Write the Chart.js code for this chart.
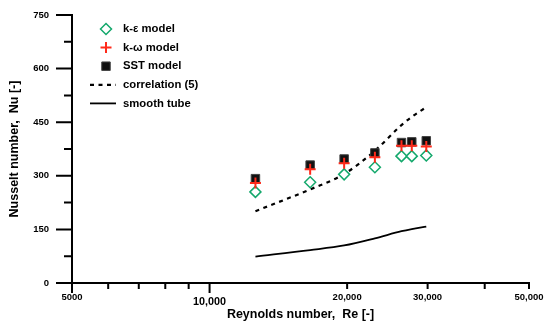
<!DOCTYPE html>
<html>
<head>
<meta charset="utf-8">
<script src="https://cdn.jsdelivr.net/npm/chart.js@4/dist/chart.umd.min.js"></script>
<style>
  html, body { margin: 0; padding: 0; background: #fff; }
  #wrap { width: 550px; height: 327px; }
</style>
</head>
<body>
<div id="wrap"><canvas id="nusseltChart"></canvas></div>
<script>
const reynolds = [12600, 16600, 19700, 23000, 26300, 27700, 29800];
const kEpsilon = [255, 282, 304, 324, 355, 355, 357];
const kOmega = [280, 318, 335, 352, 384, 384, 382];
const sst = [292, 330, 347, 364, 393, 395, 398];
const correlation = [201, 262, 305, 370, 442, 465, 492];
const smoothTube = [74, 92, 105, 125, 145, 151, 158];

const xTickValues = [5000, 6000, 7000, 8000, 9000, 10000, 20000, 30000, 40000, 50000];
const xTickLabels = ['5000', '', '', '', '', '10,000', '20,000', '30,000', '', '50,000'];
const yTickValues = [0, 75, 150, 225, 300, 375, 450, 525, 600, 675, 750];
const yTickLabels = ['0', '', '150', '', '300', '', '450', '', '600', '', '750'];

const fontFamily = '"Liberation Sans", Arial, sans-serif';
const green = '#14a86c';
const red = '#ff2a1a';

const toPoints = ys => reynolds.map((x, i) => ({ x: x, y: ys[i] }));

// tick marks: labelled ones longer
const axisTicks = {
  id: 'axisTicks',
  afterDraw(chart) {
    const { ctx, scales: { x, y } } = chart;
    ctx.save();
    ctx.strokeStyle = '#000';
    ctx.lineWidth = 2;
    ctx.beginPath();
    x.ticks.forEach(t => {
      const px = x.getPixelForValue(t.value);
      const len = (t.value === 5000 || t.value === 10000) ? 10 : 6;
      ctx.moveTo(px, x.top);
      ctx.lineTo(px, x.top + len);
    });
    y.ticks.forEach((t, i) => {
      const py = y.getPixelForValue(t.value);
      const len = yTickLabels[i] ? 16 : 8;
      ctx.moveTo(y.right, py);
      ctx.lineTo(y.right - len, py);
    });
    ctx.stroke();
    ctx.restore();
  }
};

// legend drawn inside the plot, top left
const insideLegend = {
  id: 'insideLegend',
  afterDatasetsDraw(chart) {
    const { ctx, chartArea } = chart;
    ctx.save();
    ctx.font = 'bold 11.3px ' + fontFamily;
    ctx.textBaseline = 'middle';
    chart.data.datasets.forEach((ds, i) => {
      const cy = chartArea.top + 14 + i * 18.6;
      const cx = chartArea.left + 34;
      ctx.save();
      ctx.lineWidth = ds.borderWidth;
      ctx.strokeStyle = ds.borderColor;
      ctx.fillStyle = ds.backgroundColor;
      ctx.beginPath();
      if (ds.showLine) {
        ctx.setLineDash(ds.borderDash || []);
        ctx.moveTo(chartArea.left + 18, cy);
        ctx.lineTo(chartArea.left + 44, cy);
        ctx.stroke();
      } else if (ds.pointStyle === 'rectRot') {
        const r = ds.pointRadius;
        ctx.moveTo(cx - r, cy); ctx.lineTo(cx, cy - r);
        ctx.lineTo(cx + r, cy); ctx.lineTo(cx, cy + r);
        ctx.closePath();
        ctx.fill(); ctx.stroke();
      } else if (ds.pointStyle === 'cross') {
        const r = ds.pointRadius;
        ctx.moveTo(cx - r, cy); ctx.lineTo(cx + r, cy);
        ctx.moveTo(cx, cy - r); ctx.lineTo(cx, cy + r);
        ctx.stroke();
      } else {
        const h = ds.pointRadius * Math.SQRT1_2;
        ctx.rect(cx - h, cy - h, 2 * h, 2 * h);
        ctx.fill(); ctx.stroke();
      }
      ctx.restore();
      ctx.fillStyle = '#000';
      ctx.fillText(ds.label, chartArea.left + 51, cy);
    });
    ctx.restore();
  }
};

new Chart(document.getElementById('nusseltChart'), {
  type: 'scatter',
  data: {
    datasets: [{
      label: 'k-ε model',
      data: toPoints(kEpsilon),
      pointStyle: 'rectRot',
      pointRadius: 5.5,
      borderWidth: 1.5,
      borderColor: green,
      backgroundColor: '#fff',
      order: 1
    }, {
      label: 'k-ω model',
      data: toPoints(kOmega),
      pointStyle: 'cross',
      pointRadius: 5.5,
      borderWidth: 2,
      borderColor: red,
      backgroundColor: red,
      order: 0
    }, {
      label: 'SST model',
      data: toPoints(sst),
      pointStyle: 'rect',
      pointRadius: 6,
      borderWidth: 1,
      borderColor: '#444',
      backgroundColor: '#111',
      order: 2
    }, {
      label: 'correlation (5)',
      data: toPoints(correlation),
      showLine: true,
      borderDash: [4, 4.5],
      borderWidth: 2.2,
      borderColor: '#000',
      backgroundColor: '#000',
      pointRadius: 0,
      cubicInterpolationMode: 'monotone',
      order: 3
    }, {
      label: 'smooth tube',
      data: toPoints(smoothTube),
      showLine: true,
      borderWidth: 1.8,
      borderColor: '#000',
      backgroundColor: '#000',
      pointRadius: 0,
      cubicInterpolationMode: 'monotone',
      order: 4
    }]
  },
  options: {
    responsive: true,
    maintainAspectRatio: false,
    animation: false,
    layout: { padding: { top: 15, right: 21, left: 0, bottom: 0 } },
    plugins: {
      legend: { display: false },
      tooltip: { enabled: false }
    },
    scales: {
      x: {
        type: 'logarithmic',
        min: 5000,
        max: 50000,
        afterBuildTicks: s => { s.ticks = xTickValues.map(v => ({ value: v })); },
        afterFit: s => { s.height = 44; },
        ticks: {
          autoSkip: false,
          maxRotation: 0,
          padding: 3,
          color: '#000',
          font: c => (c.tick && c.tick.value === 10000)
            ? { family: fontFamily, size: 10.8, weight: 'bold', lineHeight: 1.8 }
            : { family: fontFamily, size: 9.5, weight: 'bold', lineHeight: 1.2 },
          callback: (v, i) => xTickLabels[i]
        },
        grid: { drawOnChartArea: false, tickLength: 6, tickColor: 'rgba(0,0,0,0)' },
        border: { color: '#000', width: 2 },
        title: {
          display: true,
          text: 'Reynolds number,  Re [-]',
          color: '#000',
          font: { family: fontFamily, size: 12.5, weight: 'bold' },
          padding: { top: 0, bottom: 4.5 }
        }
      },
      y: {
        min: 0,
        max: 750,
        afterBuildTicks: s => { s.ticks = yTickValues.map(v => ({ value: v })); },
        afterFit: s => { s.width = 72; },
        ticks: {
          autoSkip: false,
          padding: 7,
          color: '#000',
          font: { family: fontFamily, size: 9.5, weight: 'bold' },
          callback: (v, i) => yTickLabels[i]
        },
        grid: { drawOnChartArea: false, tickLength: 16, tickColor: 'rgba(0,0,0,0)' },
        border: { color: '#000', width: 2 },
        title: {
          display: true,
          text: 'Nusselt number,  Nu [-]',
          color: '#000',
          font: { family: fontFamily, size: 12.5, weight: 'bold' },
          padding: { top: 7.5, bottom: 0 }
        }
      }
    }
  },
  plugins: [axisTicks, insideLegend]
});
</script>
</body>
</html>
